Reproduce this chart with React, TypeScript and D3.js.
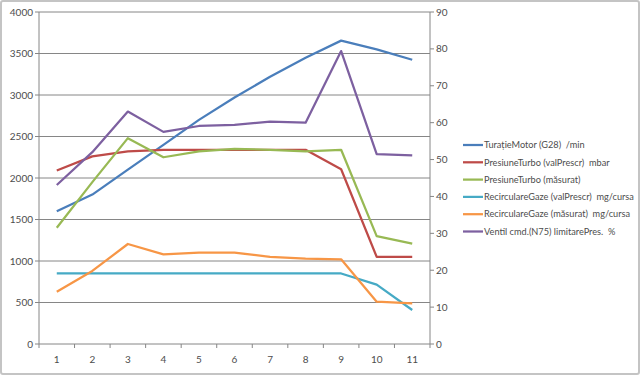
import React from "react";
import * as d3 from "d3";

const categories = ["1", "2", "3", "4", "5", "6", "7", "8", "9", "10", "11"];
const turatieMotor = [1600, 1800, 2100, 2400, 2700, 2970, 3220, 3450, 3655, 3550, 3425];
const presiuneValPrescr = [2090, 2260, 2320, 2340, 2340, 2340, 2340, 2340, 2105, 1050, 1050];
const presiuneMasurat = [1400, 1950, 2480, 2250, 2320, 2350, 2340, 2320, 2340, 1300, 1210];
const recircValPrescr = [850, 850, 850, 850, 850, 850, 850, 850, 850, 715, 410];
const recircMasurat = [630, 880, 1205, 1080, 1100, 1100, 1050, 1030, 1020, 510, 490];
const ventilPct = [43.1, 52, 63, 57.5, 59.1, 59.4, 60.3, 60.0, 79.4, 51.5, 51.1];
const leftTicks = [0, 500, 1000, 1500, 2000, 2500, 3000, 3500, 4000];
const rightTicks = [0, 10, 20, 30, 40, 50, 60, 70, 80, 90];
const seriesNames = [
  "TurațieMotor (G28)  /min",
  "PresiuneTurbo (valPrescr)  mbar",
  "PresiuneTurbo (măsurat)",
  "RecirculareGaze (valPrescr)  mg/cursa",
  "RecirculareGaze (măsurat)  mg/cursa",
  "Ventil cmd.(N75) limitarePres.  %",
];
const seriesColors = ["#4a7ebb", "#be4b48", "#98b954", "#46aac5", "#f79646", "#7d60a0"];

export default function App() {
  const W = 640, H = 376;
  const L = 39, R = 430, T = 12, B = 344;
  const x = d3.scaleBand<string>().domain(categories).range([L, R]);
  const yL = d3.scaleLinear().domain([0, 4000]).range([B, T]);
  const yR = d3.scaleLinear().domain([0, 90]).range([B, T]);
  const cx = (c: string) => (x(c) as number) + x.bandwidth() / 2;
  const data = [turatieMotor, presiuneValPrescr, presiuneMasurat, recircValPrescr, recircMasurat, ventilPct];
  const axes = [yL, yL, yL, yL, yL, yR];
  const font = "Lato, 'Open Sans', sans-serif";
  const axisColor = "#868686";
  const textColor = "#4d4d4d";

  return (
    <svg width={W} height={H} style={{ position: "absolute", left: 0, top: 0, background: "#fff" }} fontFamily={font}>
      <rect x={1} y={1} width={W - 2} height={H - 3} fill="#fff" stroke="#c4c4c4" strokeWidth={2} rx={2} />
      {leftTicks.map((t) => (
        <g key={"gl" + t}>
          {t > 0 && <line x1={L} x2={R} y1={yL(t)} y2={yL(t)} stroke={axisColor} strokeWidth={1} />}
          <line x1={L - 4} x2={L} y1={yL(t)} y2={yL(t)} stroke={axisColor} />
          <text x={L - 6} y={yL(t)} dy="0.35em" textAnchor="end" fontSize={10} fill={textColor}>{t}</text>
        </g>
      ))}
      {rightTicks.map((t) => (
        <g key={"gr" + t}>
          <line x1={R} x2={R + 4} y1={yR(t)} y2={yR(t)} stroke={axisColor} />
          <text x={R + 6} y={yR(t)} dy="0.35em" textAnchor="start" fontSize={10} fill={textColor}>{t}</text>
        </g>
      ))}
      <line x1={L} x2={L} y1={T} y2={B} stroke={axisColor} />
      <line x1={R} x2={R} y1={T} y2={B} stroke={axisColor} />
      <line x1={L} x2={R} y1={B} y2={B} stroke={axisColor} />
      {categories.map((c, i) => (
        <g key={"xc" + c}>
          <line x1={(x(c) as number)} x2={(x(c) as number)} y1={B} y2={B + 4} stroke={axisColor} />
          {i === categories.length - 1 && <line x1={R} x2={R} y1={B} y2={B + 4} stroke={axisColor} />}
          <text x={cx(c)} y={B + 15} dy="0.35em" textAnchor="middle" fontSize={10} fill={textColor}>{c}</text>
        </g>
      ))}
      {data.map((vals, si) => {
        const line = d3.line<number>().x((_, i) => cx(categories[i])).y((v) => axes[si](v));
        return <path key={"s" + si} d={line(vals) as string} fill="none" stroke={seriesColors[si]} strokeWidth={2.25} strokeLinejoin="round" />;
      })}
      {seriesNames.map((n, i) => {
        const ly = 145 + i * 17.3;
        return (
          <g key={"lg" + i}>
            <line x1={463} x2={483} y1={ly} y2={ly} stroke={seriesColors[i]} strokeWidth={2.25} />
            <text x={484} y={ly} dy="0.35em" fontSize={9.2} fill={textColor} style={{ whiteSpace: "pre" }}>{n}</text>
          </g>
        );
      })}
    </svg>
  );
}
